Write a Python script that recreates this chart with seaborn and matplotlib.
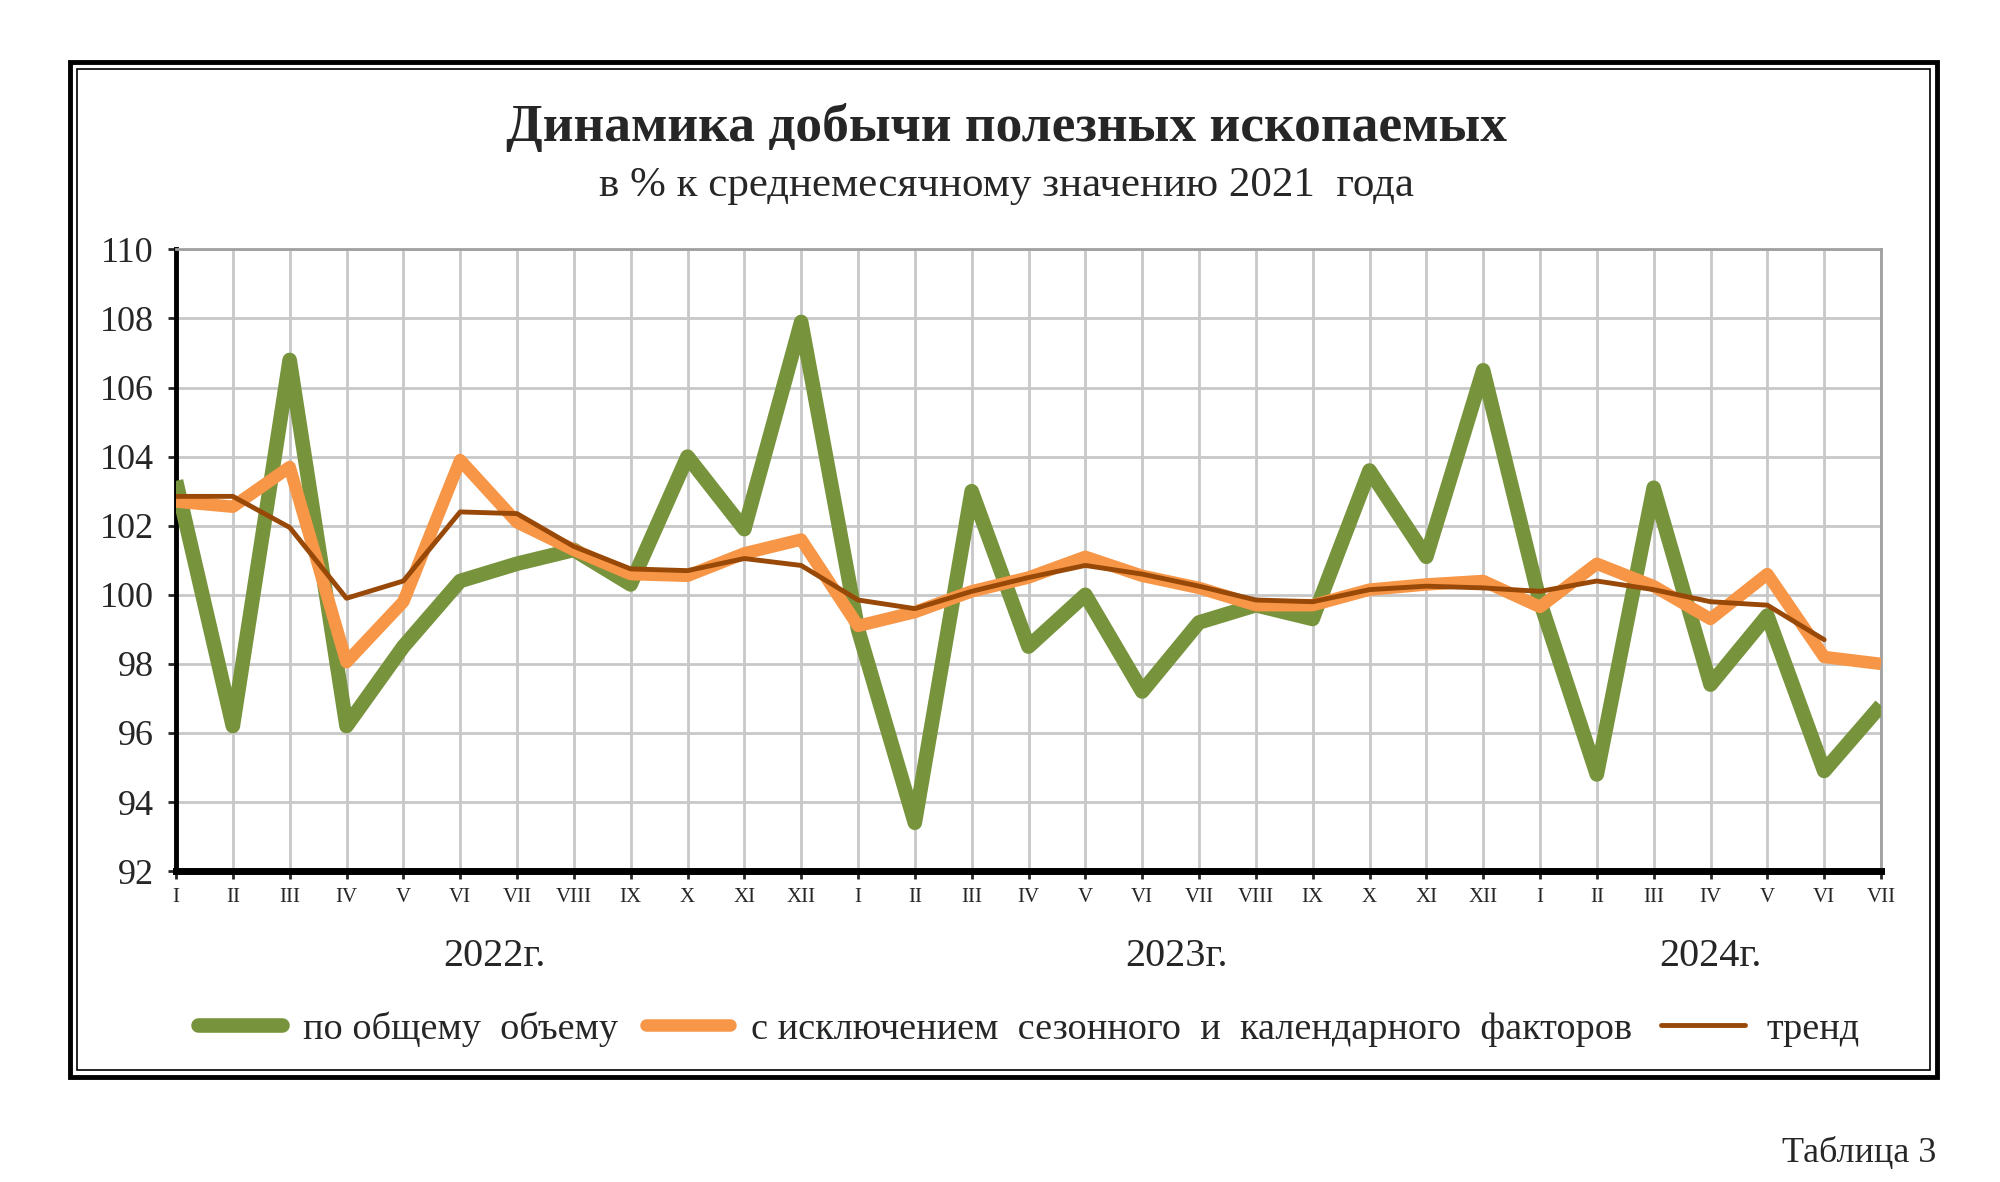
import matplotlib
matplotlib.use("Agg")
import matplotlib.pyplot as plt
import seaborn as sns
import pandas as pd
import numpy as np
from matplotlib.patches import Rectangle

months = ["I", "II", "III", "IV", "V", "VI", "VII", "VIII", "IX", "X", "XI", "XII",
          "I", "II", "III", "IV", "V", "VI", "VII", "VIII", "IX", "X", "XI", "XII",
          "I", "II", "III", "IV", "V", "VI", "VII"]
years = ["2022г.", "2023г.", "2024г."]

total = [103.3, 96.2, 106.8, 96.2, 98.5, 100.4, 100.9, 101.3, 100.3, 104.0, 101.9, 107.9,
         99.0, 93.4, 103.0, 98.5, 100.0, 97.2, 99.2, 99.7, 99.3, 103.6, 101.1, 106.5,
         99.8, 94.8, 103.1, 97.4, 99.4, 94.9, 96.8]
adjusted = [102.7, 102.55, 103.7, 98.05, 99.8, 103.9, 102.1, 101.3, 100.6, 100.55, 101.2, 101.6,
            99.1, 99.5, 100.1, 100.5, 101.1, 100.55, 100.2, 99.7, 99.7, 100.15, 100.3, 100.4,
            99.65, 100.9, 100.25, 99.3, 100.6, 98.2, 98.0]
trend = [102.85, 102.85, 101.95, 99.9, 100.4, 102.4, 102.35, 101.4, 100.75, 100.7, 101.05, 100.85,
         99.85, 99.6, 100.1, 100.5, 100.85, 100.6, 100.25, 99.85, 99.8, 100.15, 100.25, 100.2,
         100.1, 100.4, 100.15, 99.8, 99.7, 98.7]

labels = ["по общему  объему", "с исключением  сезонного  и  календарного  факторов", "тренд"]

sns.set_style("white")
plt.rcParams['font.family'] = ['Liberation Serif', 'DejaVu Serif']

fig = plt.figure(figsize=(20, 11.82), dpi=100)
ax = fig.add_axes([0.088, 0.263, 0.8525, 0.526])

idx = np.arange(len(months))
df_total = pd.DataFrame({"x": idx, "y": total})
df_adj = pd.DataFrame({"x": idx, "y": adjusted})
df_tr = pd.DataFrame({"x": idx[:len(trend)], "y": trend})

sns.lineplot(data=df_total, x="x", y="y", ax=ax, color="#77933C", linewidth=10.5,
             label=labels[0], solid_joinstyle="round", solid_capstyle="butt", zorder=3)
sns.lineplot(data=df_adj, x="x", y="y", ax=ax, color="#F79646", linewidth=9,
             label=labels[1], solid_joinstyle="round", solid_capstyle="butt", zorder=4)
sns.lineplot(data=df_tr, x="x", y="y", ax=ax, color="#984807", linewidth=3.5,
             label=labels[2], solid_joinstyle="round", zorder=5)

ax.set_xlim(0, len(months) - 1)
ax.set_ylim(92, 110)
ax.set_yticks(np.arange(92, 111, 2))
ax.set_xticks(idx)
ax.set_xticklabels(months, fontsize=15)
ax.tick_params(axis='y', labelsize=26, length=6, width=2, direction='out', left=True, pad=10)
ax.tick_params(axis='x', length=6, width=2, direction='out', bottom=True, pad=6)
ax.set_xlabel("")
ax.set_ylabel("")
ax.grid(True, color="#c8c8c8", linewidth=2)
ax.set_axisbelow(True)
for s in ["top", "right"]:
    ax.spines[s].set_color("#a0a0a0")
    ax.spines[s].set_linewidth(2)
ax.spines["left"].set_color("black")
ax.spines["left"].set_linewidth(3.5)
ax.spines["bottom"].set_color("black")
ax.spines["bottom"].set_linewidth(5)
ax.spines["bottom"].set_zorder(6)

leg = ax.legend(loc="center", bbox_to_anchor=(0.5, -0.254), ncol=3, frameon=False,
                fontsize=27.5, handlelength=2.2, columnspacing=0.75, handletextpad=0.55)
for h in leg.get_lines():
    h.set_solid_capstyle("round")

# year labels
for yr, xpos in zip(years, [5.6, 17.6, 27.0]):
    ax.text(xpos, -0.138, yr, transform=ax.get_xaxis_transform(), ha="center", va="center", fontsize=29)

fig.text(0.503, 0.892, "Динамика добычи полезных ископаемых", ha="center", va="center",
         fontsize=38.5, fontweight="bold")
fig.text(0.503, 0.843, "в % к среднемесячному значению 2021  года", ha="center", va="center",
         fontsize=31)
fig.text(0.968, 0.024, "Таблица 3", ha="right", va="center", fontsize=26)

W, H = 2000, 1182
fig.patches.append(Rectangle((70 / W, 1 - 1077 / H), (1937 - 70) / W, (1077 - 62) / H,
                             transform=fig.transFigure, fill=False, edgecolor="black", linewidth=3.5))
fig.patches.append(Rectangle((77 / W, 1 - 1070 / H), (1930 - 77) / W, (1070 - 69) / H,
                             transform=fig.transFigure, fill=False, edgecolor="black", linewidth=1.2))

fig.savefig("out.png", dpi=100, facecolor="white")
